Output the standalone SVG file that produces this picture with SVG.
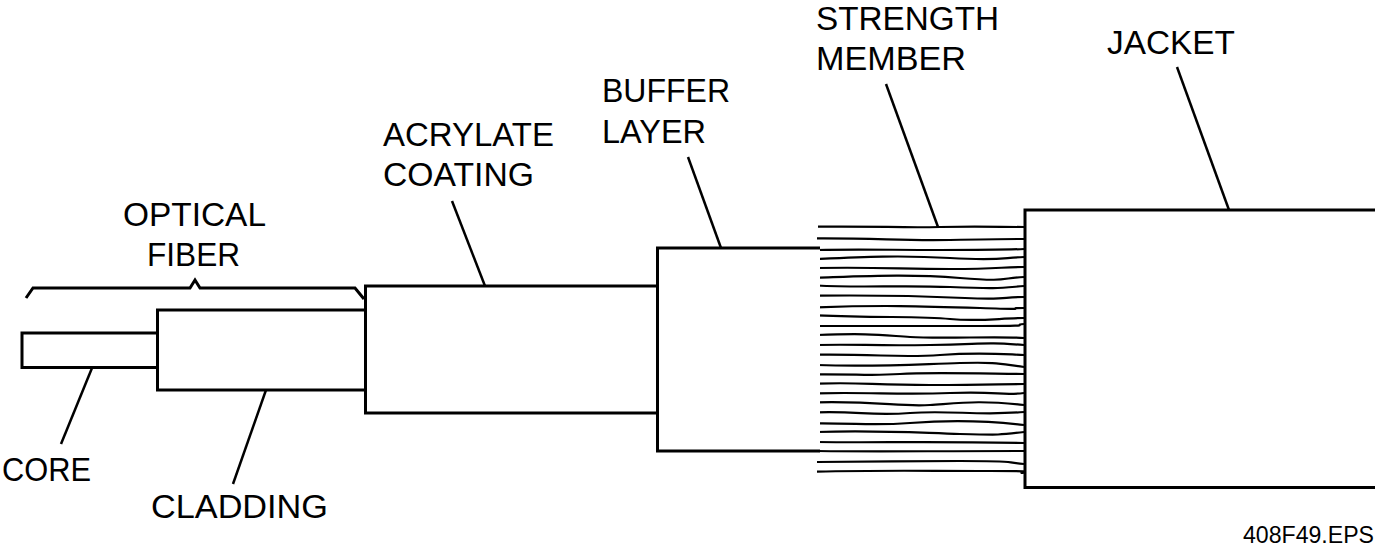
<svg xmlns="http://www.w3.org/2000/svg" width="1375" height="551" viewBox="0 0 1375 551">
<style>
text{font-family:"Liberation Sans",Arial,sans-serif;font-size:34px;fill:#000}
.o{fill:#fff;stroke:#000;stroke-width:3;stroke-linejoin:miter}
.l{fill:none;stroke:#000;stroke-width:2.5}
.s{fill:none;stroke:#000;stroke-width:2.2}
</style>
<rect width="1375" height="551" fill="#fff"/>
<g id="strands" class="s">
<path d="M818 226.7C880 226 900 228 940 227S1000 227 1024 227"/>
<path d="M817 238.3C880 238 900 241 950 240S1000 239 1024 239"/>
<path d="M817 250C860 249 890 250 940 250S1000 250 1024 249"/>
<path d="M817 259C860 257 900 255 950 258S1000 258 1024 257"/>
<path d="M817 268C880 267 900 269 950 269S1000 267 1024 267"/>
<path d="M817 277.7C870 276 910 274 960 278S1000 278 1024 277"/>
<path d="M817 285.5C860 288 900 285 950 287S1000 288 1024 286"/>
<path d="M817 295.7C880 295 920 296 965 298S1000 297 1024 297"/>
<path d="M817 307.3C880 305 920 306 980 308S1000 308 1024 308"/>
<path d="M817 315.3C880 318 920 316 950 319S1000 318 1024 318"/>
<path d="M817 326C880 326 920 326 980 326S1010 325 1024 324"/>
<path d="M817 335C870 333 880 335 910 337S1000 336 1024 338"/>
<path d="M817 345C860 344 870 346 930 345S980 342 1024 345"/>
<path d="M817 354.7C880 354 900 358 940 355S1000 354 1024 355"/>
<path d="M817 365C880 367 920 364 960 363S1000 364 1024 367"/>
<path d="M817 374.3C860 374 870 376 900 374S1000 374 1024 374"/>
<path d="M817 383.7C860 382 870 385 930 385S1000 384 1024 384"/>
<path d="M817 393.3C870 392 900 395 950 393S1000 396 1024 393"/>
<path d="M817 402.3C880 401 900 407 930 405S980 400 1024 405"/>
<path d="M817 412.3C860 411 870 416 910 413S980 416 1024 412"/>
<path d="M817 423.3C860 423 870 426 910 423S990 421 1024 425"/>
<path d="M817 432C880 430 920 433 960 434S1000 435 1024 432"/>
<path d="M817 442C880 443 920 441 1024 443"/>
<path d="M817 451C880 452 920 451 1024 451"/>
<path d="M817 462C880 462 900 461 960 461S1000 462 1024 464"/>
<path d="M817 471.7C880 470 920 471 990 471S1010 473 1024 473"/>
</g>
<g id="core"><path class="o" d="M158 333H22V367.500H158"/></g>
<g id="cladding"><rect class="o" x="157.500" y="310" width="208" height="80"/></g>
<g id="acrylate-coating"><rect class="o" x="365.500" y="286" width="292" height="127"/></g>
<g id="buffer-layer"><path class="o" d="M820 248H657.500V451H820" fill="none"/></g>
<g id="jacket"><path class="o" d="M1375 210H1025V487.500H1375" /></g>
<g id="connectors" class="l">
<path d="M92 368L61 444"/>
<path d="M266 390L233 484"/>
<path d="M452 201L485 286"/>
<path d="M688 157L721 248"/>
<path d="M886 84L938 227"/>
<path d="M1177 67L1229 210"/>
<path d="M26 298L33 288H190L195 280L200 288H355L364 299" stroke-width="3"/>
</g>
<g id="labels">
<text x="2" y="481" textLength="89" lengthAdjust="spacingAndGlyphs">CORE</text>
<text x="151" y="518" textLength="177" lengthAdjust="spacingAndGlyphs">CLADDING</text>
<text x="123" y="226" textLength="143" lengthAdjust="spacingAndGlyphs">OPTICAL</text>
<text x="147" y="266" textLength="93" lengthAdjust="spacingAndGlyphs">FIBER</text>
<text x="383" y="146" textLength="171" lengthAdjust="spacingAndGlyphs">ACRYLATE</text>
<text x="383" y="186" textLength="151" lengthAdjust="spacingAndGlyphs">COATING</text>
<text x="602" y="102" textLength="128" lengthAdjust="spacingAndGlyphs">BUFFER</text>
<text x="602" y="143" textLength="104" lengthAdjust="spacingAndGlyphs">LAYER</text>
<text x="816" y="30" textLength="183" lengthAdjust="spacingAndGlyphs">STRENGTH</text>
<text x="816" y="70" textLength="150" lengthAdjust="spacingAndGlyphs">MEMBER</text>
<text x="1107" y="54" textLength="128" lengthAdjust="spacingAndGlyphs">JACKET</text>
<text x="1243" y="543" textLength="131" lengthAdjust="spacingAndGlyphs" style="font-size:23px">408F49.EPS</text>
</g>
</svg>
